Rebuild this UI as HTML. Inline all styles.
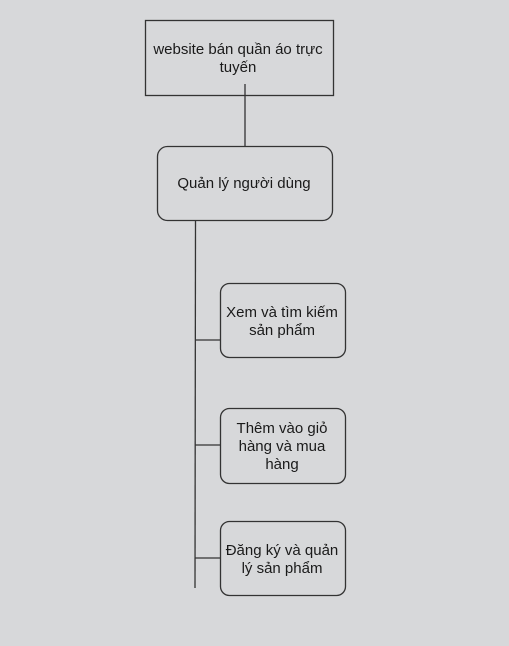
<!DOCTYPE html>
<html><head><meta charset="utf-8"><style>
body{margin:0;background:#d7d8da;}
svg{display:block}
text{font-family:"Liberation Sans",sans-serif;font-size:15px;fill:#1a1a1a;text-anchor:middle}
</style></head><body>
<svg width="509" height="646" viewBox="0 0 509 646">
<rect width="509" height="646" fill="#d7d8da"/>
<g stroke="#333" stroke-width="1.3" fill="none">
<rect x="145.5" y="20.5" width="188" height="75"/>
<line x1="245" y1="84" x2="245" y2="146"/>
<rect x="157.5" y="146.5" width="175" height="74" rx="10"/>
<line x1="195.5" y1="221" x2="195" y2="588"/>
<rect x="220.5" y="283.5" width="125" height="74" rx="9"/>
<rect x="220.5" y="408.5" width="125" height="75" rx="9"/>
<rect x="220.5" y="521.5" width="125" height="74" rx="9"/>
<line x1="195" y1="340" x2="220" y2="340"/>
<line x1="195" y1="445" x2="220" y2="445"/>
<line x1="195" y1="558" x2="220" y2="558"/>
</g>
<text x="238" y="54">website bán quần áo trực</text>
<text x="238" y="72">tuyến</text>
<text x="244" y="188">Quản lý người dùng</text>
<text x="282" y="317">Xem và tìm kiếm</text>
<text x="282" y="335">sản phẩm</text>
<text x="282" y="433">Thêm vào giỏ</text>
<text x="282" y="451">hàng và mua</text>
<text x="282" y="469">hàng</text>
<text x="282" y="555">Đăng ký và quản</text>
<text x="282" y="573">lý sản phẩm</text>
</svg>
</body></html>
